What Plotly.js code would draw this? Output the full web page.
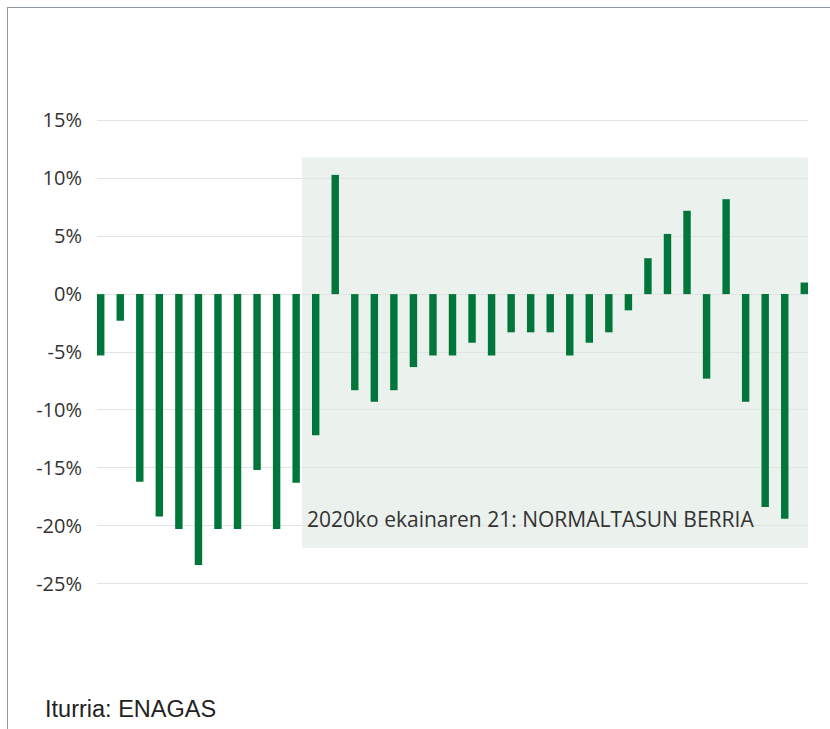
<!DOCTYPE html>
<html>
<head>
<meta charset="utf-8">
<script src="https://cdn.plot.ly/plotly-3.0.1.min.js"></script>
<style>
  html, body { margin: 0; padding: 0; background: #fff; }
  #wrap { position: relative; width: 830px; height: 729px; }
  #chart { width: 830px; height: 729px; }
  #frame { position: absolute; left: 7px; top: 7px; right: 0; bottom: 0;
           border-top: 1px solid #8e99a5; border-left: 1px solid #8e99a5; pointer-events: none; }
</style>
</head>
<body>
<div id="wrap">
  <div id="chart"></div>
  <div id="frame"></div>
</div>
<script>
// Year-on-year change in gas demand (%), weekly
const periods = Array.from({length: 37}, (_, i) => i);
const changePct = [
  -5.3, -2.3, -16.2, -19.2, -20.3, -23.4, -20.3, -20.3, -15.2, -20.3, -16.3, -12.2,
  10.3, -8.3, -9.3, -8.3, -6.3, -5.3, -5.3, -4.2, -5.3, -3.3, -3.3, -3.3, -5.3,
  -4.2, -3.3, -1.4, 3.1, 5.2, 7.2, -7.3, 8.2, -9.3, -18.4, -19.4, 1.0
];
const tickVals = [15, 10, 5, 0, -5, -10, -15, -20, -25];
const tickLabels = ['15%', '10%', '5%', '0%', '-5%', '-10%', '-15%', '-20%', '-25%'];
const periodLabel = '2020ko ekainaren 21: NORMALTASUN BERRIA';
const sourceLabel = 'Iturria: ENAGAS';
const newNormalStart = 10.3;

const trace = {
  type: 'bar',
  x: periods,
  y: changePct,
  marker: { color: '#00763a' },
  hoverinfo: 'skip'
};

const layout = {
  width: 830,
  height: 729,
  margin: { l: 97, r: 22, t: 116.5, b: 141.5, pad: 0 },
  paper_bgcolor: 'rgba(0,0,0,0)',
  plot_bgcolor: 'rgba(0,0,0,0)',
  showlegend: false,
  bargap: 0.62,
  xaxis: {
    range: [-0.19, 36.19],
    showgrid: false, zeroline: false, showticklabels: false, ticks: '',
    showline: false, fixedrange: true
  },
  yaxis: {
    range: [-25.3, 15.3],
    tickvals: tickVals,
    ticktext: tickLabels,
    showgrid: true,
    gridcolor: '#e1e4e3',
    gridwidth: 1,
    zeroline: false,
    showline: false,
    ticks: '',
    ticklabelstandoff: 14,
    tickfont: { family: 'Open Sans, sans-serif', size: 20, color: '#333333' },
    fixedrange: true
  },
  shapes: [{
    type: 'rect', layer: 'below',
    xref: 'x', yref: 'y',
    x0: newNormalStart, x1: 36.19, y0: -21.9, y1: 11.8,
    fillcolor: '#ebf1ed', line: { width: 0 }
  }],
  annotations: [
    {
      xref: 'x', yref: 'y', x: 10.45, y: -19.45,
      xanchor: 'left', yanchor: 'middle', showarrow: false,
      text: periodLabel,
      font: { family: 'Open Sans, sans-serif', size: 21, color: '#333333' }
    },
    {
      xref: 'paper', yref: 'paper', x: -0.076, y: -0.26,
      xanchor: 'left', yanchor: 'middle', showarrow: false,
      text: sourceLabel,
      font: { family: 'Liberation Sans, Arial, sans-serif', size: 23.5, color: '#222222' }
    }
  ]
};

Plotly.newPlot('chart', [trace], layout, { displayModeBar: false, staticPlot: true });
</script>
</body>
</html>
